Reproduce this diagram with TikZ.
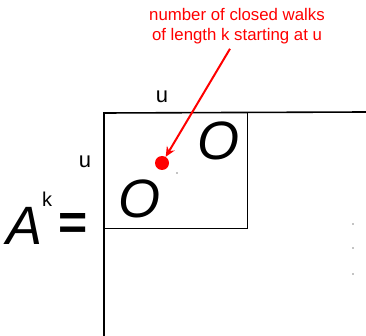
\documentclass[tikz,border=0pt]{standalone}
\usepackage{fontspec}
\setmainfont{Liberation Sans}
\usepackage{xcolor}
\usetikzlibrary{arrows.meta,positioning,calc}

\begin{document}
\begin{tikzpicture}[x=1pt,y=-1pt,
		lbl/.style={inner sep=0pt, font=\fontsize{22}{22}\selectfont},
		zero/.style={inner sep=0pt, font=\fontsize{54}{54}\selectfont\itshape},
		dotmark/.style={circle, fill=black, inner sep=0pt, minimum size=1.2pt}]
		\useasboundingbox (0,0) rectangle (366,336);
		% matrix outline
		\draw[line width=1.6pt] (104,336) -- (104,113) -- (366,112);
		\draw[line width=0.8pt] (104,228) -- (247,228) -- (247,113);
		\node[lbl] (ucol) at (162,97) {u};
		\node[lbl] (urow) at (85,162) {u};
		\node[zero] (o1) at (218,141) {O};
		\node[zero] (o2) at (139,199) {O};
		\node[dotmark] (d0) at (177,173) {};
		\node[circle, fill=red, inner sep=0pt, minimum size=14pt] (entry) at (162,163) {};

		\node[inner sep=0pt, font=\fontsize{54}{54}\selectfont\itshape] (a) at (25,226) {A};
		\node[lbl, font=\fontsize{20}{20}\selectfont] (k) at (47,199) {k};
		\node[inner sep=0pt, font=\fontsize{50}{50}\selectfont\bfseries] (eq) at (73,226) {=};

		\node[dotmark] (v1) at (353,224) {};
		\node[dotmark] (v2) at (353,248) {};
		\node[dotmark] (v3) at (353,274) {};

		\node[red, align=center, inner sep=0pt, font=\fontsize{16.8}{19.5}\selectfont] (note) at (237,26) {number of closed walks\\of length k starting at u};
		\draw[red, line width=2pt, -{Stealth[length=10pt,width=9pt]}] ([xshift=-7pt,yshift=-5pt]note.south) -- (entry);
	\end{tikzpicture}
\end{document}
